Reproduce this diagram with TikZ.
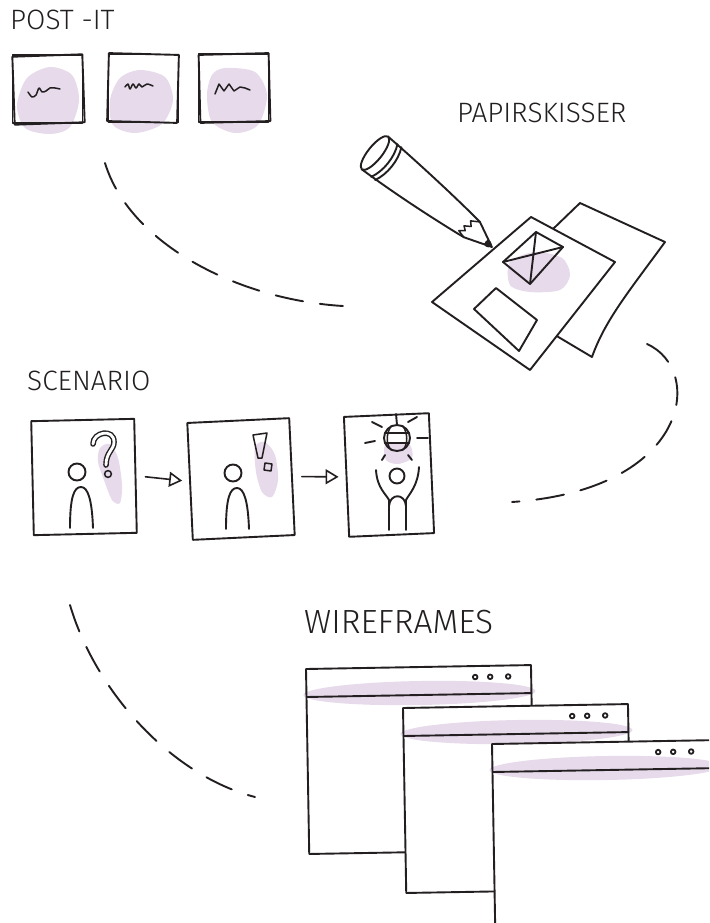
\documentclass[tikz,border=0pt]{standalone}
\usepackage{fontspec}
\newfontfamily\handfont{Fira Sans Light}
\usetikzlibrary{arrows.meta,positioning,calc}
\definecolor{ink}{RGB}{35,31,32}
\definecolor{lilac}{RGB}{230,218,235}
\tikzset{
  sketch/.style={draw=ink, line width=1.9pt, line join=round, line cap=round},
  thinsketch/.style={draw=ink, line width=1.5pt, line join=round, line cap=round},
  blob/.style={fill=lilac, draw=none},
  heading/.style={anchor=base west, inner sep=0pt, text=ink,
    font=\handfont\fontsize{28}{33}\selectfont},
  bigheading/.style={heading, font=\handfont\fontsize{33.5}{40}\selectfont},
  postit/.style={sketch, minimum width=70pt, minimum height=68pt, inner sep=0pt},
  panel/.style 2 args={sketch, minimum width=#1, minimum height=#2, inner sep=0pt},
  flowarr/.style={sketch, line width=1.6pt, -{Triangle[open, length=13pt, width=15pt]},
    shorten <=9pt, shorten >=7pt},
  trail/.style={draw=ink, line width=1.9pt, line cap=round, dash pattern=on 28pt off 17pt}
}

\begin{document}
\begin{tikzpicture}[x=1pt, y=-1pt]
\path[use as bounding box, fill=white] (0,0) rectangle (709,923);
\clip (0,0) rectangle (709,923);

% Post-it notes
\node[heading] (postitlbl) at (10,30) {POST -IT};

\fill[blob] plot[smooth cycle] coordinates
  {(50,67) (72,75) (79,100) (70,127) (50,134) (25,128) (17,105) (27,78)};
\fill[blob] plot[smooth cycle] coordinates
  {(140,70) (165,77) (173,100) (162,124) (135,133) (113,125) (110,100) (120,78)};
\fill[blob] plot[smooth cycle] coordinates
  {(225,68) (255,72) (267,95) (258,125) (235,133) (212,122) (207,95) (212,75)};

\node[postit] (pi1) at (47.5,89) {};
\node[postit, rotate=2] at (48.5,89.5) {};
\node[postit] (pi2) at (143.5,88.5) {};
\node[postit, rotate=-1.5] at (143,88) {};
\node[postit] (pi3) at (233.5,88) {};
\node[postit, rotate=1.5] at (234.5,88) {};

\draw[thinsketch] plot[smooth] coordinates
  {(28,92) (32,97) (36,95) (39,88) (42,92) (46,91) (50,88) (55,88) (60,89)};
\draw[thinsketch] plot[smooth] coordinates
  {(125,87) (128,84) (130,89) (133,84) (136,88) (139,84) (142,87) (147,84) (153,86)};
\draw[thinsketch] plot coordinates
  {(215,94) (219,84) (224,91) (229,84) (234,91) (240,87) (245,88) (250,90)};

% Paper sketches
\node[heading] (paperlbl) at (457,122) {PAPIRSKISSER};

\draw[sketch, fill=white] (553,229) -- (580,203) -- (665,242)
  .. controls (630,290) and (605,320) .. (592,357) -- (555,335);
\draw[sketch, fill=white] (432,302) -- (531,217) -- (615,262) -- (530,370) -- cycle;

\fill[blob] plot[smooth cycle] coordinates
  {(510,262) (535,252) (562,258) (570,275) (560,290) (530,292) (510,285)};
\draw[sketch] (536,232) -- (563,247) -- (530,284) -- (503,262) -- cycle;
\draw[sketch] (536,232) -- (530,284) (503,262) -- (563,247);
\draw[sketch] (496,288) -- (537,320) -- (519,351) -- (474,309) -- cycle;

% Pencil
\begin{scope}[shift={(375,153)}, rotate=-38.8]
  \draw[sketch, fill=white] (0,-21) .. controls (50,-19) and (100,-15) .. (125,-12)
    -- (150,0) -- (122,10) .. controls (100,13) and (50,19) .. (0,21) -- cycle;
  \draw[sketch, fill=white] (0,0) ellipse [x radius=7, y radius=21];
  \draw[sketch] (12,-21) .. controls (18,-9) and (18,9) .. (12,21);
  \draw[sketch] (17,-21) .. controls (23,-9) and (23,9) .. (17,21);
  \draw[thinsketch] (125,-12) -- (117,-7) -- (121,-3) -- (115,1) -- (119,4)
    -- (114,8) -- (122,10);
  \fill[ink] (142,-3.5) -- (151,0) -- (142,3.5) -- cycle;
  \fill[ink] (145,0) circle [radius=3.5];
\end{scope}

% Scenario
\node[heading] (scenlbl) at (27,390) {SCENARIO};

\node[panel={103pt}{114pt}, rotate=1.3] (scen1) at (84,477) {};
\node[panel={102pt}{117pt}, rotate=2.7] (scen2) at (241,479) {};
\node[panel={85pt}{120pt}, rotate=2.5] (scen3) at (389,475) {};

\draw[flowarr] (scen1.east) -- (scen2.west);
\draw[flowarr] (scen2.east) -- (scen3.west);

% question and exclamation marks
\fill[blob] plot[smooth cycle] coordinates
  {(100,448) (110,444) (118,458) (122,485) (120,503) (112,500) (104,480) (98,462)};
\draw[ink, line width=1.4pt, double=white, double distance=2.8pt, line cap=round]
  (93,444) .. controls (93,432) and (114,428) .. (114,442)
  .. controls (114,450) and (106,452) .. (106,465);
\draw[thinsketch] (108,474) circle [radius=3.4];

\fill[blob] plot[smooth cycle] coordinates
  {(255,447) (265,442) (275,455) (278,480) (272,497) (262,492) (256,472)};
\draw[thinsketch] (253,435) -- (267,433) -- (262,458) -- (258,458) -- cycle;
\draw[thinsketch] (265,463) -- (272,464) -- (271,471) -- (264,470) -- cycle;

\foreach \hx/\hy in {77/472, 233/473} {
  \draw[sketch] (\hx,\hy) circle [radius=8.5];
  \draw[sketch] (\hx-7,\hy+56) .. controls (\hx-7,\hy+25) and (\hx-3,\hy+15) .. (\hx+4,\hy+15)
    .. controls (\hx+11,\hy+15) and (\hx+15,\hy+28) .. (\hx+16,\hy+56);
}

% disco ball and cheering figure
\fill[blob] plot[smooth cycle] coordinates
  {(385,445) (398,443) (410,445) (412,458) (398,464) (386,460)};
\draw[sketch] (397,425) -- (396,414);
\draw[sketch] (397,438) circle [radius=13];
\draw[thinsketch] (391,426) .. controls (386,434) and (386,444) .. (391,450);
\draw[thinsketch] (403,426) .. controls (408,434) and (408,444) .. (403,450);
\draw[thinsketch] (385,433) -- (409,433) (385,443) -- (409,443);
\draw[sketch] (372,422) -- (382,427) (408,422) -- (417,417)
  (365,443) -- (375,441) (417,438) -- (428,438)
  (382,460) -- (385,455) (408,455) -- (412,460);

\draw[sketch] (397,476) circle [radius=7.5];
\draw[sketch] (376,470) .. controls (377,488) and (386,494) .. (389,500) -- (389,530);
\draw[sketch] (419,467) .. controls (418,486) and (409,494) .. (406,500) -- (406,530);
\draw[sketch] (389,506) .. controls (390,493) and (405,493) .. (406,506);

% Wireframes
\node[bigheading] (wirelbl) at (304,633) {WIREFRAMES};

\foreach \wx/\wy/\ww/\wh in {306/669/225/185, 403/708/225/185, 492/744/222/200} {
  \begin{scope}[shift={(\wx,\wy)}, rotate=1]
    \fill[white] (0,0) rectangle (\ww,\wh);
    \fill[blob] (113,26) ellipse [x radius=116, y radius=12];
    \draw[sketch] (0,0) rectangle (\ww,\wh);
    \draw[sketch] (0,28) -- (\ww,28);
    \foreach \d in {56,41,23}
      \draw[sketch, line width=1.8pt] (\ww-\d,11) circle [radius=2.3];
  \end{scope}
}

% Dashed trails between the stages
\coordinate (postitEnd) at (105,163);
\coordinate (paperStart) at (343,306);
\coordinate (paperEnd) at (647,344);
\coordinate (scenStart) at (512,502);
\coordinate (scenEnd) at (70,605);
\coordinate (wireStart) at (255,797);

\draw[trail] (postitEnd) .. controls (130,245) and (240,300) .. (paperStart);
\draw[trail] (paperEnd) .. controls (705,370) and (690,490) .. (scenStart);
\draw[trail] (scenEnd) .. controls (95,690) and (170,775) .. (wireStart);

\end{tikzpicture}
\end{document}
